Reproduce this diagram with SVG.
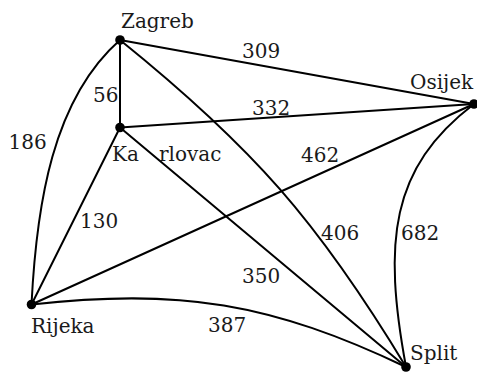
<svg xmlns="http://www.w3.org/2000/svg" width="477" height="374" viewBox="0 0 477 374">
  <style>
    .edge { fill: none; stroke: #000; stroke-width: 2; stroke-linecap: round; }
    .dot { fill: #000; }
    text { font-family: 'DejaVu Serif', 'Liberation Serif', serif; font-size: 20px; fill: #1a1a1a; }
  </style>
  <rect width="477" height="374" fill="#fff"/>

  <!-- road connections between cities -->
  <g id="edges">
    <line class="edge" x1="120" y1="40" x2="120" y2="127.5"/>
    <line class="edge" x1="120" y1="40" x2="474" y2="104"/>
    <line class="edge" x1="120" y1="127.5" x2="474" y2="104"/>
    <line class="edge" x1="120" y1="127.5" x2="31.5" y2="304.5"/>
    <line class="edge" x1="120" y1="127.5" x2="406" y2="367"/>
    <line class="edge" x1="31.5" y1="304.5" x2="474" y2="104"/>
    <path class="edge" d="M120,40 C52.5,99.4 36.5,204.5 31.5,304.5"/>
    <path class="edge" d="M120,40 C252.3,146.7 318.1,221.5 406,367"/>
    <path class="edge" d="M31.5,304.5 C179.2,287.6 271.8,303.1 406,367"/>
    <path class="edge" d="M474,104 C390,168 383,242 406,367"/>
  </g>

  <!-- distance labels -->
  <g id="distances">
    <text x="242" y="58">309</text>
    <text x="252" y="115">332</text>
    <text x="93" y="102">56</text>
    <text x="8.5" y="149">186</text>
    <text x="301" y="162">462</text>
    <text x="80" y="228">130</text>
    <text x="321" y="240">406</text>
    <text x="401" y="240">682</text>
    <text x="242" y="283">350</text>
    <text x="208" y="332">387</text>
  </g>

  <g id="zagreb">
    <circle class="dot" cx="120" cy="40" r="4.8"/>
    <text x="121" y="28">Zagreb</text>
  </g>
  <g id="karlovac">
    <circle class="dot" cx="120" cy="127.5" r="4.8"/>
    <text x="112" y="161">Ka <tspan x="159">rlovac</tspan></text>
  </g>
  <g id="osijek">
    <circle class="dot" cx="474" cy="104" r="4.8"/>
    <text x="410" y="89">Osijek</text>
  </g>
  <g id="rijeka">
    <circle class="dot" cx="31.5" cy="304.5" r="4.8"/>
    <text x="31" y="333">Rijeka</text>
  </g>
  <g id="split">
    <circle class="dot" cx="406" cy="367" r="4.8"/>
    <text x="410" y="360">Split</text>
  </g>
</svg>
